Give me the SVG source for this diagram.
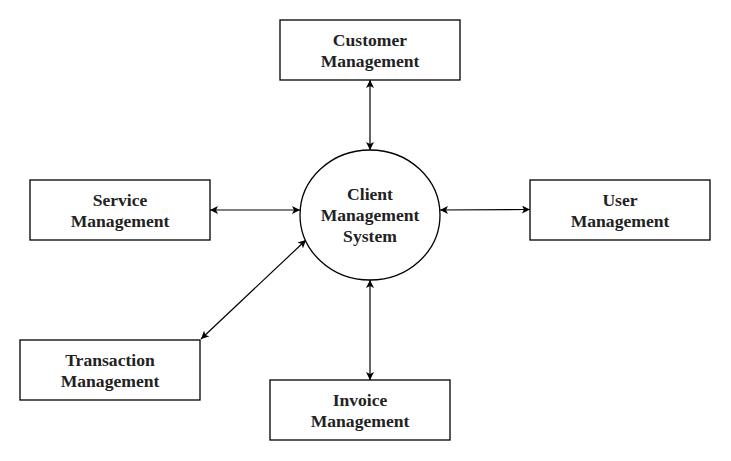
<svg xmlns="http://www.w3.org/2000/svg" width="731" height="461" viewBox="0 0 731 461">
<style>
.box{fill:#fff;stroke:#000;stroke-width:1.3}
.t{font-family:"Liberation Serif","Times New Roman",serif;font-weight:bold;font-size:17.6px;fill:#222;text-anchor:middle}
.c{stroke:#000;stroke-width:1.2;fill:none;marker-start:url(#a);marker-end:url(#a)}
</style>
<defs>
<marker id="a" viewBox="0 0 10 10" refX="10" refY="5" markerWidth="8" markerHeight="8" markerUnits="userSpaceOnUse" orient="auto-start-reverse">
<path d="M0,0 L10,5 L0,10 L2.5,5 Z" fill="#000"/>
</marker>
</defs>
<rect width="731" height="461" fill="#fff"/>
<g id="connectors">
<line class="c" x1="370" y1="80" x2="370" y2="150"/>
<line class="c" x1="210" y1="210" x2="300" y2="210"/>
<line class="c" x1="440" y1="210" x2="530" y2="209.5"/>
<line class="c" x1="370" y1="280" x2="370" y2="380"/>
<line class="c" x1="201" y1="339" x2="306" y2="240"/>
</g>
<g id="customer">
<rect class="box" x="280" y="20" width="180" height="60"/>
<text class="t" x="370" y="45.5">Customer</text>
<text class="t" x="370" y="66.5">Management</text>
</g>
<g id="service">
<rect class="box" x="30" y="180" width="180" height="60"/>
<text class="t" x="120" y="205.5">Service</text>
<text class="t" x="120" y="226.5">Management</text>
</g>
<g id="user">
<rect class="box" x="530" y="180" width="180" height="60"/>
<text class="t" x="620" y="205.5">User</text>
<text class="t" x="620" y="226.5">Management</text>
</g>
<g id="transaction">
<rect class="box" x="20" y="340" width="180" height="60"/>
<text class="t" x="110" y="365.5">Transaction</text>
<text class="t" x="110" y="386.5">Management</text>
</g>
<g id="invoice">
<rect class="box" x="270" y="380" width="180" height="60"/>
<text class="t" x="360" y="405.5">Invoice</text>
<text class="t" x="360" y="426.5">Management</text>
</g>
<g id="system">
<ellipse class="box" cx="370" cy="215" rx="70" ry="65"/>
<text class="t" x="370" y="199.5">Client</text>
<text class="t" x="370" y="220.5">Management</text>
<text class="t" x="370" y="241.5">System</text>
</g>
</svg>
